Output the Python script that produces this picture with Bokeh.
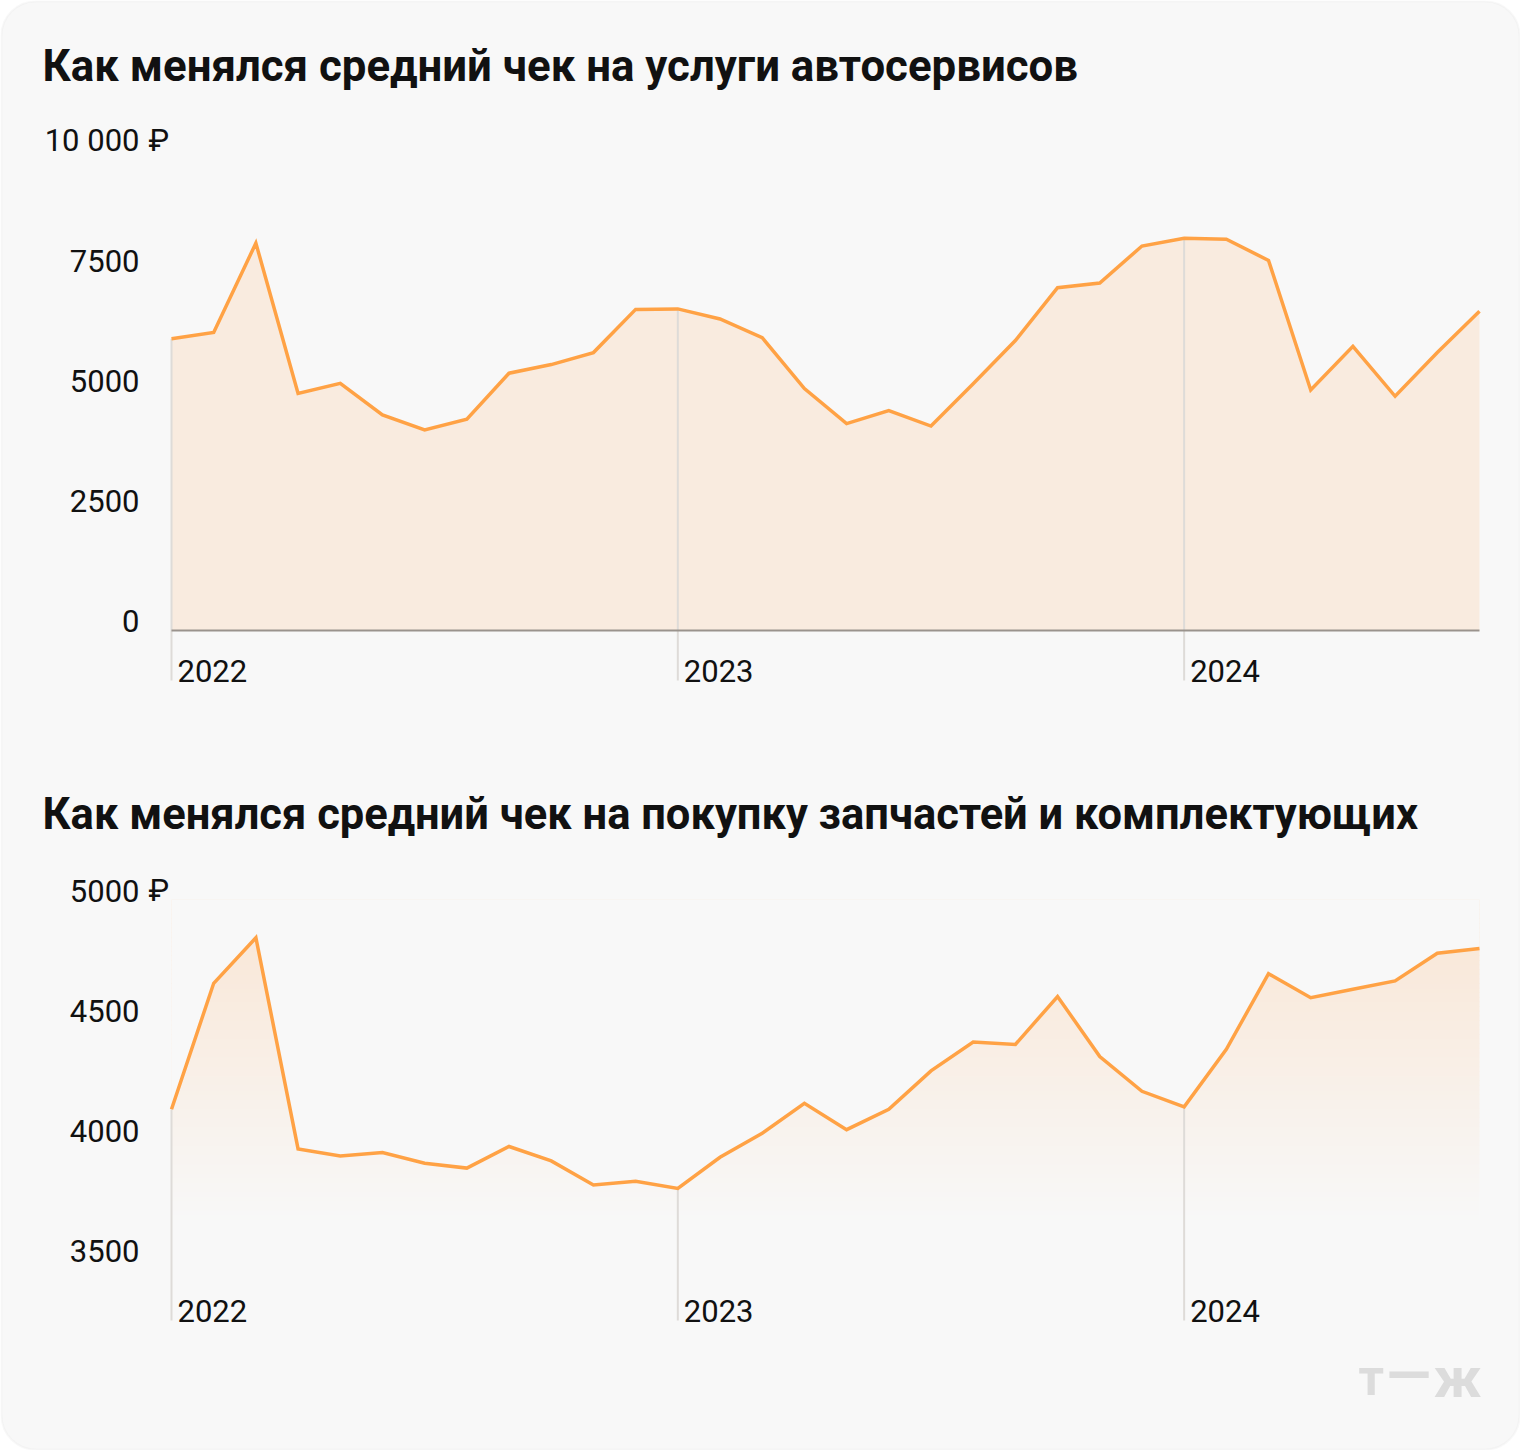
import numpy as np
from bokeh.plotting import figure
from bokeh.models import Range1d, Label, BoxAnnotation
from bokeh.core.properties import value
from bokeh.embed import file_html
from bokeh.resources import INLINE

# ---------------- data ----------------
months = ["2022-01", "2022-02", "2022-03", "2022-04", "2022-05", "2022-06",
          "2022-07", "2022-08", "2022-09", "2022-10", "2022-11", "2022-12",
          "2023-01", "2023-02", "2023-03", "2023-04", "2023-05", "2023-06",
          "2023-07", "2023-08", "2023-09", "2023-10", "2023-11", "2023-12",
          "2024-01", "2024-02", "2024-03", "2024-04", "2024-05", "2024-06",
          "2024-07", "2024-08"]

service_check = [6080, 6210, 8070, 4940, 5150, 4490, 4180, 4400, 5360, 5540, 5790, 6690,
                 6700, 6490, 6100, 5040, 4310, 4580, 4260, 5140, 6040, 7140, 7240, 8010,
                 8170, 8150, 7710, 5010, 5920, 4880, 5790, 6650]

parts_check = [4130, 4655, 4845, 3965, 3935, 3950, 3905, 3885, 3975, 3915, 3815, 3830,
               3800, 3930, 4030, 4155, 4045, 4130, 4290, 4410, 4400, 4600, 4350, 4205,
               4140, 4380, 4695, 4595, 4630, 4665, 4780, 4800]

year_labels = ["2022", "2023", "2024"]
year_months = ["2022-01", "2023-01", "2024-01"]

top_ticks = [0, 2500, 5000, 7500, 10000]
top_tick_labels = ["0", "2500", "5000", "7500", "10 000"]
bot_ticks = [3500, 4000, 4500, 5000]
bot_tick_labels = ["3500", "4000", "4500", "5000"]

title_top = "Как менялся средний чек на услуги автосервисов"
title_bot = "Как менялся средний чек на покупку запчастей и комплектующих"
currency = "₽"

# ---------------- layout constants ----------------
W, H = 1520, 1450
X_FIRST_PX, X_LAST_PX = 171, 1479
TOP_ZERO_PX, TOP_PPU = 630, 480 / 10000
BOT_REF_VAL, BOT_REF_PX, BOT_PPU = 5000, 900, 120 / 500

BG = "#f8f8f8"
ORANGE = "#ffa245"
PEACH = "#f9ebdf"
FONT = "Roboto"
TICK_SIZE = "31px"

idx = list(range(len(months)))
n_last = len(months) - 1
ppm = (X_LAST_PX - X_FIRST_PX) / n_last
x_start = -X_FIRST_PX / ppm
x_end = n_last + (W - X_LAST_PX) / ppm


def top_val(px):
    return (TOP_ZERO_PX - px) / TOP_PPU


def bot_val(px):
    return BOT_REF_VAL + (BOT_REF_PX - px) / BOT_PPU


p = figure(width=W, height=H, output_backend="svg", toolbar_location=None,
           x_range=Range1d(x_start, x_end),
           y_range=Range1d(top_val(H), top_val(0)),
           x_axis_location=None, y_axis_location=None, min_border=0)
p.extra_y_ranges = {"bot": Range1d(bot_val(H), bot_val(0))}
p.grid.visible = False
p.outline_line_color = None
p.background_fill_color = "white"
p.border_fill_color = "white"

# card
card = BoxAnnotation(left=1, right=W - 1, bottom=1, top=H - 1,
                     left_units="screen", right_units="screen",
                     bottom_units="screen", top_units="screen",
                     fill_color=BG, fill_alpha=1, line_color="#e9e9e9", line_width=2,
                     border_radius=34, level="underlay")
p.add_layout(card)

year_idx = [months.index(m) for m in year_months]

# ---------------- top chart ----------------
p.varea(x=idx, y1=0, y2=service_check, fill_color=PEACH)
p.segment(x0=year_idx, y0=[service_check[i] for i in year_idx],
          x1=year_idx, y1=[top_val(680)] * len(year_idx),
          line_color="#dedbd8", line_width=2)
p.segment(x0=[0], y0=[0], x1=[n_last], y1=[0], line_color="#9a938d", line_width=2)
p.line(idx, service_check, line_color=ORANGE, line_width=3.5, line_join="miter")

p.text(x=[0] * len(top_ticks), y=top_ticks, text=top_tick_labels,
       x_offset=-32, y_offset=-10, text_align="right", text_baseline="middle",
       text_font=value(FONT), text_font_size=TICK_SIZE, text_color="#111111")
p.text(x=[0], y=[top_ticks[-1]], text=[currency], x_offset=-23, y_offset=-10,
       text_align="left", text_baseline="middle",
       text_font=value(FONT), text_font_size=TICK_SIZE, text_color="#111111")
p.text(x=year_idx, y=[0] * len(year_idx), text=year_labels, x_offset=6, y_offset=40,
       text_align="left", text_baseline="middle",
       text_font=value(FONT), text_font_size=TICK_SIZE, text_color="#111111")

# ---------------- bottom chart ----------------
def hex2rgb(h):
    return np.array([int(h[i:i + 2], 16) for i in (1, 3, 5)], dtype=float)


c0, c1 = hex2rgb(BG), hex2rgb("#f9e7d7")
g_lo, g_hi = 3650, 5000
nb = 70
edges = np.linspace(g_lo, g_hi, nb + 1)
cols = []
for i in range(nb):
    t = ((edges[i] + edges[i + 1]) / 2 - g_lo) / (4900 - g_lo)
    t = min(max(t, 0), 1)
    c = c0 + (c1 - c0) * t
    cols.append("#%02x%02x%02x" % tuple(int(round(v)) for v in c))
p.quad(left=0, right=n_last, bottom=edges[:-1], top=edges[1:] + 3,
       fill_color=cols, line_color=None, y_range_name="bot")
# mask above the line
p.varea(x=idx, y1=parts_check, y2=g_hi + 3, fill_color=BG, y_range_name="bot")

p.segment(x0=year_idx, y0=[parts_check[i] for i in year_idx],
          x1=year_idx, y1=[bot_val(1320)] * len(year_idx),
          line_color="#dedbd8", line_width=2, y_range_name="bot")
p.line(idx, parts_check, line_color=ORANGE, line_width=3.5, line_join="miter",
       y_range_name="bot")

p.text(x=[0] * len(bot_ticks), y=bot_ticks, text=bot_tick_labels,
       x_offset=-32, y_offset=-10, text_align="right", text_baseline="middle",
       text_font=value(FONT), text_font_size=TICK_SIZE, text_color="#111111",
       y_range_name="bot")
p.text(x=[0], y=[bot_ticks[-1]], text=[currency], x_offset=-23, y_offset=-10,
       text_align="left", text_baseline="middle",
       text_font=value(FONT), text_font_size=TICK_SIZE, text_color="#111111",
       y_range_name="bot")
p.text(x=year_idx, y=[bot_ticks[0]] * len(year_idx), text=year_labels,
       x_offset=6, y_offset=50, text_align="left", text_baseline="middle",
       text_font=value(FONT), text_font_size=TICK_SIZE, text_color="#111111",
       y_range_name="bot")

# ---------------- titles & watermark ----------------
p.add_layout(Label(x=42, y=H - 65, x_units="screen", y_units="screen", text=title_top,
                   text_font=FONT, text_font_style="bold", text_font_size="43.8px",
                   text_color="#111111", text_baseline="alphabetic"))
p.add_layout(Label(x=42, y=H - 814, x_units="screen", y_units="screen", text=title_bot,
                   text_font=FONT, text_font_style="bold", text_font_size="43.5px",
                   text_color="#111111", text_baseline="alphabetic"))
for txt, xpos, ypos, size, align in (("т", 1358, H - 1377, "50px", "left"),
                                     ("—", 1386, H - 1374, "58px", "left"),
                                     ("ж", 1481, H - 1377, "56px", "right")):
    p.add_layout(Label(x=xpos, y=ypos, x_units="screen", y_units="screen",
                       text=txt, text_font=FONT, text_font_style="bold",
                       text_font_size=size, text_color="#dcdcdc",
                       text_align=align, text_baseline="alphabetic"))

open("out.html", "w").write(file_html(p, INLINE))
